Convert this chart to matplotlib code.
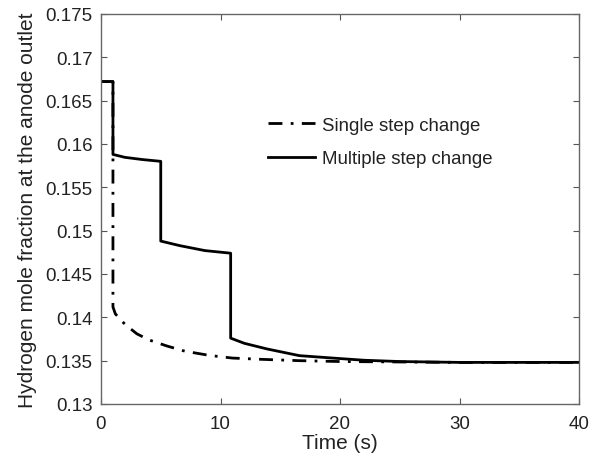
import matplotlib
matplotlib.use("Agg")
import matplotlib.pyplot as plt
from matplotlib.ticker import FixedLocator, FixedFormatter

plt.rcParams['font.family'] = ['Liberation Sans', 'DejaVu Sans']

# Single step change
t_single = [0, 1.0, 1.0, 1.2, 2.0, 3.0, 4.0, 5.5, 7.0, 9.1, 11.0, 13.5, 16.6, 20.0, 25.0, 30.0, 40.0]
y_single = [0.1672, 0.1672, 0.1412, 0.1404, 0.1392, 0.1381, 0.1374, 0.1367, 0.1361, 0.1356, 0.1353, 0.13515, 0.1350, 0.1349, 0.13485, 0.1348, 0.1348]

# Multiple step change
t_multi = [0, 1.0, 1.0, 2.0, 3.5, 5.0, 5.0, 6.6, 8.7, 10.85, 10.85, 12.0, 13.9, 16.6, 19.4, 22.0, 25.0, 30.0, 40.0]
y_multi = [0.1672, 0.1672, 0.1588, 0.15846, 0.1582, 0.1580, 0.1488, 0.14827, 0.1477, 0.1474, 0.1376, 0.1370, 0.13635, 0.13558, 0.1353, 0.13505, 0.1349, 0.1348, 0.1348]

x_ticks = [0, 10, 20, 30, 40]
y_ticks = [0.13, 0.135, 0.14, 0.145, 0.15, 0.155, 0.16, 0.165, 0.17, 0.175]
y_tick_labels = ["0.13", "0.135", "0.14", "0.145", "0.15", "0.155", "0.16", "0.165", "0.17", "0.175"]

fig = plt.figure(figsize=(6.0, 4.64), dpi=100)
ax = fig.add_axes([101/600, 1 - 405/464, (579-101)/600, (405-15)/464])

ax.plot(t_single, y_single, color='black', lw=2.0, linestyle=(0, (5, 3, 1, 3)), label='Single step change')
ax.plot(t_multi, y_multi, color='black', lw=2.0, linestyle='-', label='Multiple step change')

ax.set_xlim(0, 40)
ax.set_ylim(0.13, 0.175)
ax.xaxis.set_major_locator(FixedLocator(x_ticks))
ax.yaxis.set_major_locator(FixedLocator(y_ticks))
ax.yaxis.set_major_formatter(FixedFormatter(y_tick_labels))
ax.tick_params(direction='in', top=True, right=True, length=4, width=0.8,
               color='#555555', labelsize=13.5, labelcolor='#222222')
ax.tick_params(axis='x', pad=8)
ax.tick_params(axis='y', pad=6)
for s in ax.spines.values():
    s.set_color('#666666')
    s.set_linewidth(1.0)

ax.set_xlabel('Time (s)', fontsize=15, color='#222222', labelpad=1)
ax.set_ylabel('Hydrogen mole fraction at the anode outlet', fontsize=15, color='#222222', labelpad=6)

leg = ax.legend(loc='center left', bbox_to_anchor=(0.349, 0.672), frameon=False, fontsize=13.4,
                borderpad=0, borderaxespad=0, handlelength=2.53, handletextpad=0.38, labelspacing=0.9)
for t in leg.get_texts():
    t.set_color('#222222')

fig.savefig('out.png', dpi=100)
